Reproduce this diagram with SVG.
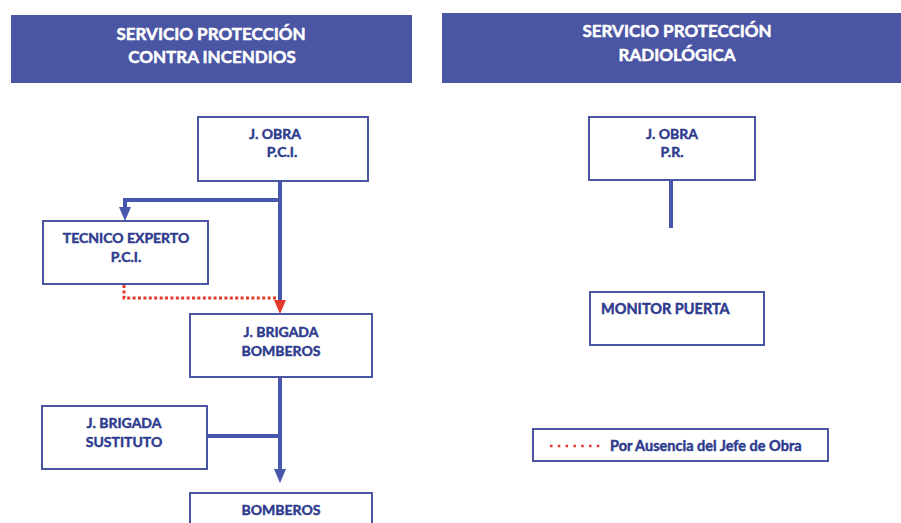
<svg xmlns="http://www.w3.org/2000/svg" width="901" height="523" viewBox="0 0 901 523">
<style>
.hdr{fill:#4a55a3}
.ht{font-family:Lato,"Liberation Sans",sans-serif;font-weight:bold;font-size:17px;fill:#ffffff;stroke:#ffffff;stroke-width:0.5;text-anchor:middle}
.box{fill:#ffffff;stroke:#4a55a3;stroke-width:2}
.nt{font-family:Lato,"Liberation Sans",sans-serif;font-weight:bold;font-size:14px;fill:#2e3b8e;stroke:#2e3b8e;stroke-width:0.45;text-anchor:middle}
.ntl{font-family:Lato,"Liberation Sans",sans-serif;font-weight:bold;font-size:14.5px;fill:#2e3b8e;stroke:#2e3b8e;stroke-width:0.45}
.conn{fill:none;stroke:#4657ad;stroke-width:4}
.dot{fill:none;stroke:#e5392c;stroke-width:3;stroke-dasharray:3 2.4}
</style>
<rect width="901" height="523" fill="#ffffff"/>
<g id="header-pci">
<rect class="hdr" x="11" y="15" width="401" height="68"/>
<text class="ht" x="211" y="40">SERVICIO PROTECCIÓN</text>
<text class="ht" x="212" y="63">CONTRA INCENDIOS</text>
</g>
<g id="header-pr">
<rect class="hdr" x="442" y="13" width="459" height="70"/>
<text class="ht" x="677" y="37">SERVICIO PROTECCIÓN</text>
<text class="ht" x="677" y="61">RADIOLÓGICA</text>
</g>
<g id="connectors">
<line class="conn" x1="280" y1="181" x2="280" y2="300"/>
<path class="conn" d="M280,200 H125 V207"/>
<path d="M119,207 L131,207 L125,221 Z" fill="#4657ad"/>
<path class="dot" d="M124,285 V298 H276"/>
<path d="M274,300 L286,300 L280,314 Z" fill="#e5392c"/>
<line class="conn" x1="280" y1="377" x2="280" y2="470"/>
<path d="M274,469 L286,469 L280,483 Z" fill="#4657ad"/>
<line class="conn" x1="207" y1="436" x2="280" y2="436"/>
<line class="conn" x1="671" y1="181" x2="671" y2="228"/>
</g>
<g id="jobra-pci">
<rect class="box" x="198" y="117" width="170" height="64"/>
<text class="nt" x="275" y="139">J. OBRA</text>
<text class="nt" x="282" y="157">P.C.I.</text>
</g>
<g id="tecnico-experto">
<rect class="box" x="43" y="221" width="165" height="63"/>
<text class="nt" x="126" y="243">TECNICO EXPERTO</text>
<text class="nt" x="126" y="262">P.C.I.</text>
</g>
<g id="jbrigada-bomberos">
<rect class="box" x="190" y="314" width="182" height="63"/>
<text class="nt" x="281" y="337">J. BRIGADA</text>
<text class="nt" x="281" y="356">BOMBEROS</text>
</g>
<g id="jbrigada-sustituto">
<rect class="box" x="42" y="406" width="165" height="63"/>
<text class="nt" x="124" y="428">J. BRIGADA</text>
<text class="nt" x="124" y="447">SUSTITUTO</text>
</g>
<g id="bomberos">
<rect class="box" x="190" y="493" width="182" height="40"/>
<text class="nt" x="281" y="515">BOMBEROS</text>
</g>
<g id="jobra-pr">
<rect class="box" x="589" y="117" width="166" height="63"/>
<text class="nt" x="672" y="139">J. OBRA</text>
<text class="nt" x="672" y="157">P.R.</text>
</g>
<g id="monitor-puerta">
<rect class="box" x="590" y="292" width="174" height="53"/>
<text class="ntl" x="601" y="314">MONITOR PUERTA</text>
</g>
<g id="legend">
<rect class="box" x="533" y="429" width="295" height="32"/>
<line x1="550" y1="446" x2="600" y2="446" stroke="#e5392c" stroke-width="2.5" stroke-dasharray="2.5 5.3"/>
<text class="ntl" x="610" y="451">Por Ausencia del Jefe de Obra</text>
</g>
</svg>
